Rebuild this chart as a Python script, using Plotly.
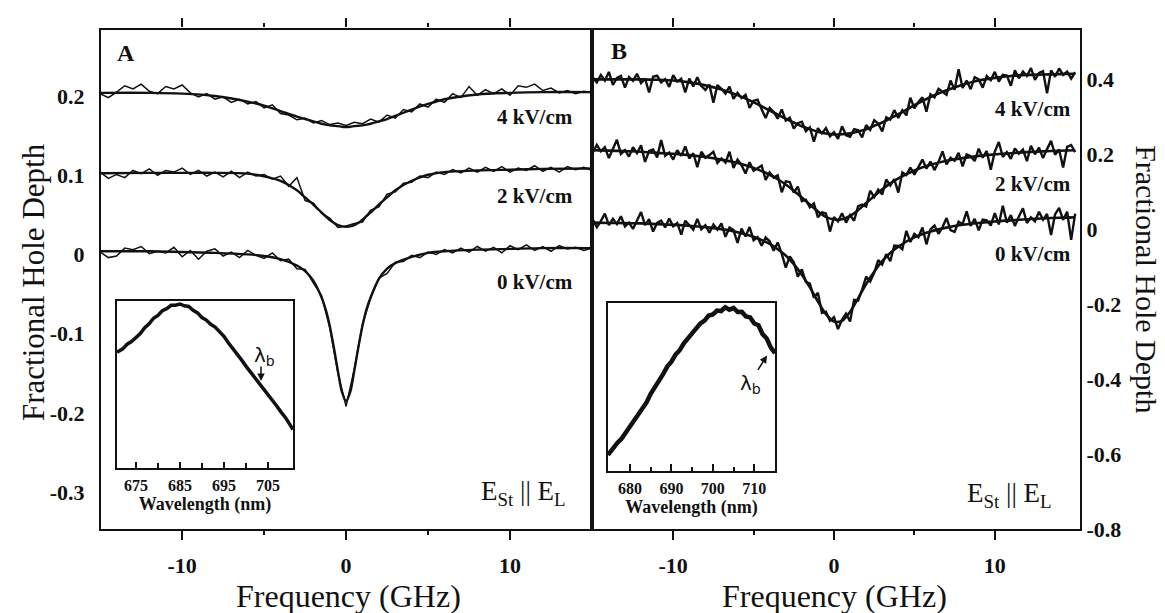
import plotly.graph_objects as go

# ---------------- data ----------------
FREQ_A = [-15.0, -14.5, -14.0, -13.5, -13.0, -12.5, -12.0, -11.5, -11.0, -10.5,
          -10.0, -9.5, -9.0, -8.5, -8.0, -7.5, -7.0, -6.5, -6.0, -5.5,
          -5.0, -4.5, -4.0, -3.5, -3.0, -2.5, -2.0, -1.5, -1.0, -0.5,
          0.0, 0.5, 1.0, 1.5, 2.0, 2.5, 3.0, 3.5, 4.0, 4.5,
          5.0, 5.5, 6.0, 6.5, 7.0, 7.5, 8.0, 8.5, 9.0, 9.5,
          10.0, 10.5, 11.0, 11.5, 12.0, 12.5, 13.0, 13.5, 14.0, 14.5,
          15.0]

A_DATA_0KV = [0.003, -0.004, -0.002, 0.008, 0.006, 0.010, 0.001, 0.004, 0.002, 0.009,
              -0.003, 0.005, -0.006, 0.004, 0.007, -0.002, 0.003, -0.004, 0.005, -0.001,
              -0.005, 0.002, -0.008, -0.006, -0.018, -0.019, -0.036, -0.052, -0.092, -0.150,
              -0.192, -0.145, -0.088, -0.055, -0.030, -0.024, -0.010, -0.009, -0.001, -0.004,
              0.003, 0.000, 0.006, 0.002, 0.008, 0.003, 0.010, 0.004, 0.009, 0.002,
              0.011, 0.006, 0.012, 0.005, 0.010, 0.004, 0.011, 0.007, 0.009, 0.005,
              0.008]
A_DATA_2KV = [0.104, 0.096, 0.101, 0.097, 0.106, 0.102, 0.108, 0.100, 0.106, 0.104,
              0.109, 0.101, 0.106, 0.099, 0.104, 0.098, 0.105, 0.097, 0.104, 0.099,
              0.101, 0.095, 0.099, 0.086, 0.097, 0.068, 0.065, 0.052, 0.046, 0.034,
              0.036, 0.039, 0.041, 0.056, 0.060, 0.076, 0.079, 0.090, 0.091, 0.099,
              0.097, 0.104, 0.101, 0.107, 0.103, 0.109, 0.104, 0.110, 0.105, 0.111,
              0.104, 0.109, 0.106, 0.112, 0.105, 0.110, 0.104, 0.111, 0.107, 0.110,
              0.106]
A_DATA_4KV = [0.203, 0.198, 0.205, 0.213, 0.209, 0.215, 0.206, 0.203, 0.212, 0.209,
              0.214, 0.204, 0.199, 0.203, 0.196, 0.199, 0.192, 0.196, 0.190, 0.193,
              0.185, 0.189, 0.178, 0.176, 0.170, 0.172, 0.166, 0.169, 0.164, 0.166,
              0.163, 0.167, 0.165, 0.171, 0.167, 0.176, 0.172, 0.183, 0.180, 0.190,
              0.186, 0.196, 0.192, 0.203, 0.198, 0.212, 0.201, 0.208, 0.203, 0.209,
              0.201, 0.213, 0.211, 0.215, 0.207, 0.210, 0.204, 0.207, 0.203, 0.206,
              0.204]

FIT_FREQ_A = [-15, -12, -10, -8, -6, -5, -4, -3, -2.5, -2, -1.5, -1.25, -1, -0.75, -0.5, -0.25,
              0, 0.25, 0.5, 0.75, 1, 1.25, 1.5, 2, 2.5, 3, 4, 5, 6, 8, 10, 12, 15]
A_FIT_0KV = [0.004, 0.004, 0.003, 0.002, 0.000, -0.002, -0.006, -0.014, -0.021, -0.033, -0.054,
             -0.069, -0.090, -0.117, -0.147, -0.174, -0.185, -0.174, -0.147, -0.117, -0.090,
             -0.069, -0.054, -0.031, -0.018, -0.011, -0.003, 0.002, 0.004, 0.006, 0.007, 0.008, 0.008]
A_FIT_2KV = [0.1025, 0.103, 0.103, 0.103, 0.102, 0.0986, 0.093, 0.081, 0.072, 0.063, 0.053,
             0.048, 0.0435, 0.040, 0.037, 0.0355, 0.035, 0.0355, 0.037, 0.040, 0.044,
             0.0485, 0.053, 0.063, 0.072, 0.081, 0.093, 0.1006, 0.104, 0.106, 0.107, 0.108, 0.1085]
A_FIT_4KV = [0.204, 0.204, 0.203, 0.200, 0.193, 0.188, 0.181, 0.174, 0.171, 0.168, 0.165,
             0.164, 0.163, 0.1625, 0.162, 0.1612, 0.161, 0.1613, 0.162, 0.1625, 0.163,
             0.164, 0.165, 0.168, 0.171, 0.175, 0.183, 0.190, 0.196, 0.202, 0.204, 0.205, 0.205]

FREQ_B = [-15.0, -14.75, -14.5, -14.25, -14.0, -13.75, -13.5, -13.25,
          -13.0, -12.75, -12.5, -12.25, -12.0, -11.75, -11.5, -11.25,
          -11.0, -10.75, -10.5, -10.25, -10.0, -9.75, -9.5, -9.25,
          -9.0, -8.75, -8.5, -8.25, -8.0, -7.75, -7.5, -7.25,
          -7.0, -6.75, -6.5, -6.25, -6.0, -5.75, -5.5, -5.25,
          -5.0, -4.75, -4.5, -4.25, -4.0, -3.75, -3.5, -3.25,
          -3.0, -2.75, -2.5, -2.25, -2.0, -1.75, -1.5, -1.25,
          -1.0, -0.75, -0.5, -0.25, 0.0, 0.25, 0.5, 0.75,
          1.0, 1.25, 1.5, 1.75, 2.0, 2.25, 2.5, 2.75,
          3.0, 3.25, 3.5, 3.75, 4.0, 4.25, 4.5, 4.75,
          5.0, 5.25, 5.5, 5.75, 6.0, 6.25, 6.5, 6.75,
          7.0, 7.25, 7.5, 7.75, 8.0, 8.25, 8.5, 8.75,
          9.0, 9.25, 9.5, 9.75, 10.0, 10.25, 10.5, 10.75,
          11.0, 11.25, 11.5, 11.75, 12.0, 12.25, 12.5, 12.75,
          13.0, 13.25, 13.5, 13.75, 14.0, 14.25, 14.5, 14.75,
          15.0]

B_DATA_4KV = [0.405, 0.392, 0.412, 0.397, 0.420, 0.385, 0.404, 0.409,
              0.378, 0.406, 0.396, 0.415, 0.390, 0.402, 0.365, 0.407,
              0.410, 0.392, 0.401, 0.380, 0.411, 0.394, 0.402, 0.365,
              0.402, 0.381, 0.406, 0.382, 0.372, 0.386, 0.338, 0.385,
              0.375, 0.362, 0.381, 0.348, 0.364, 0.350, 0.359, 0.324,
              0.343, 0.346, 0.320, 0.297, 0.324, 0.313, 0.295, 0.320,
              0.290, 0.298, 0.269, 0.283, 0.287, 0.262, 0.272, 0.234,
              0.270, 0.256, 0.270, 0.248, 0.259, 0.241, 0.275, 0.251,
              0.247, 0.267, 0.264, 0.245, 0.278, 0.265, 0.291, 0.282,
              0.261, 0.299, 0.293, 0.318, 0.297, 0.318, 0.304, 0.351,
              0.323, 0.340, 0.352, 0.314, 0.360, 0.352, 0.375, 0.367,
              0.359, 0.397, 0.372, 0.427, 0.377, 0.397, 0.374, 0.406,
              0.400, 0.378, 0.409, 0.398, 0.420, 0.394, 0.412, 0.410,
              0.383, 0.424, 0.403, 0.421, 0.409, 0.430, 0.399, 0.417,
              0.422, 0.363, 0.424, 0.407, 0.429, 0.412, 0.421, 0.402,
              0.419]
B_DATA_2KV = [0.205, 0.225, 0.208, 0.219, 0.190, 0.215, 0.239, 0.201,
              0.211, 0.194, 0.219, 0.203, 0.224, 0.180, 0.209, 0.213,
              0.192, 0.238, 0.196, 0.205, 0.186, 0.211, 0.196, 0.221,
              0.189, 0.203, 0.166, 0.207, 0.191, 0.198, 0.207, 0.177,
              0.189, 0.178, 0.207, 0.164, 0.186, 0.171, 0.149, 0.179,
              0.156, 0.163, 0.170, 0.132, 0.152, 0.138, 0.144, 0.099,
              0.128, 0.126, 0.098, 0.114, 0.075, 0.079, 0.059, 0.069,
              0.032, 0.045, 0.042, -0.006, 0.033, 0.021, 0.043, 0.018,
              0.038, 0.023, 0.062, 0.066, 0.061, 0.103, 0.086, 0.106,
              0.093, 0.133, 0.117, 0.134, 0.098, 0.152, 0.145, 0.165,
              0.146, 0.166, 0.186, 0.162, 0.181, 0.158, 0.180, 0.208,
              0.173, 0.191, 0.183, 0.204, 0.168, 0.200, 0.195, 0.182,
              0.215, 0.191, 0.209, 0.159, 0.207, 0.233, 0.193, 0.206,
              0.188, 0.216, 0.202, 0.213, 0.182, 0.223, 0.200, 0.218,
              0.190, 0.214, 0.236, 0.199, 0.213, 0.165, 0.220, 0.225,
              0.206]
B_DATA_0KV = [0.026, 0.006, 0.022, 0.042, 0.011, 0.028, 0.014, 0.035,
              0.008, 0.018, 0.001, 0.023, 0.046, 0.011, 0.027, -0.006,
              0.017, 0.023, 0.005, 0.029, 0.008, 0.017, -0.014, 0.023,
              0.012, -0.001, 0.028, 0.000, 0.011, -0.009, 0.013, -0.001,
              0.016, -0.020, 0.005, -0.002, -0.036, 0.002, -0.019, 0.006,
              -0.029, -0.021, -0.044, -0.022, -0.032, -0.057, -0.035, -0.065,
              -0.102, -0.072, -0.088, -0.126, -0.107, -0.140, -0.145, -0.182,
              -0.169, -0.223, -0.220, -0.244, -0.234, -0.266, -0.241, -0.225,
              -0.246, -0.188, -0.190, -0.161, -0.126, -0.139, -0.116, -0.082,
              -0.094, -0.066, -0.085, -0.043, -0.044, -0.053, -0.004, -0.034,
              -0.012, -0.021, 0.005, -0.040, 0.000, 0.010, -0.012, 0.006,
              0.030, -0.002, -0.007, 0.020, 0.014, 0.048, 0.009, 0.028,
              -0.003, 0.026, 0.024, 0.010, 0.043, 0.013, 0.063, 0.018,
              0.038, 0.009, 0.034, 0.056, 0.017, 0.032, 0.021, 0.047,
              0.026, 0.041, -0.015, 0.040, 0.057, 0.025, 0.047, -0.028,
              0.042]

FIT_FREQ_B = [-15, -14, -13, -12, -11, -10, -9, -8, -7, -6, -5, -4,
              -3.5, -3, -2.5, -2, -1.5, -1, -0.5, 0, 0.5, 1, 1.5, 2, 2.5, 3, 3.5, 4,
              5, 6, 7, 8, 9, 10, 11, 12, 13, 14, 15]
B_FIT_4KV = [0.400, 0.400, 0.400, 0.400, 0.399, 0.397, 0.392, 0.384, 0.373, 0.358, 0.339, 0.317,
             0.306, 0.295, 0.285, 0.275, 0.2675, 0.260, 0.2555, 0.253, 0.2535, 0.256, 0.261, 0.267,
             0.276, 0.285, 0.296, 0.307,
             0.331, 0.353, 0.371, 0.386, 0.397, 0.404, 0.409, 0.412, 0.413, 0.414, 0.415]
B_FIT_2KV = [0.211, 0.210, 0.2085, 0.207, 0.204, 0.2015, 0.198, 0.193, 0.186, 0.177, 0.164, 0.1456,
             0.1336, 0.1195, 0.1032, 0.085, 0.066, 0.048, 0.033, 0.026, 0.027, 0.036, 0.051, 0.070,
             0.089, 0.1066, 0.1225, 0.136,
             0.157, 0.172, 0.183, 0.190, 0.196, 0.200, 0.203, 0.206, 0.208, 0.2095, 0.211]
B_FIT_0KV = [0.018, 0.017, 0.0165, 0.016, 0.014, 0.012, 0.0097, 0.006, 0.0005, -0.0075, -0.020, -0.039,
             -0.053, -0.070, -0.093, -0.121, -0.155, -0.1925, -0.226, -0.246, -0.244, -0.220, -0.184,
             -0.146, -0.113, -0.085, -0.063, -0.046,
             -0.0215, -0.006, 0.0045, 0.012, 0.017, 0.021, 0.024, 0.027, 0.029, 0.031, 0.032]

INSET_A_WL = [670.7, 671, 672, 673, 674, 675, 676, 677, 678, 679, 680, 681, 682, 683, 684, 685,
              686, 687, 688, 689, 690, 691, 692, 693, 694, 695, 696, 697, 698, 699, 700,
              701, 702, 703, 704, 705, 706, 707, 708, 709, 710, 710.7]
INSET_A_VAL = [0.690, 0.697, 0.712, 0.740, 0.756, 0.783, 0.803, 0.838, 0.862, 0.895, 0.912,
               0.940, 0.952, 0.972, 0.973, 0.980, 0.969, 0.965, 0.942, 0.927, 0.899,
               0.884, 0.859, 0.842, 0.815, 0.787, 0.748, 0.716, 0.679, 0.646, 0.609,
               0.576, 0.542, 0.508, 0.471, 0.440, 0.403, 0.371, 0.334, 0.301, 0.259, 0.230]
INSET_B_WL = [674.7, 675, 676, 677, 678, 679, 680, 681, 682, 683, 684, 685, 686, 687, 688, 689,
              690, 691, 692, 693, 694, 695, 696, 697, 698, 699, 700, 701, 702, 703, 704,
              705, 706, 707, 708, 709, 710, 711, 712, 713, 714, 715]
INSET_B_VAL = [0.095, 0.105, 0.133, 0.168, 0.192, 0.228, 0.255, 0.295, 0.327, 0.373, 0.407,
               0.458, 0.494, 0.541, 0.575, 0.620, 0.649, 0.691, 0.717, 0.758, 0.786,
               0.824, 0.843, 0.877, 0.893, 0.923, 0.930, 0.953, 0.950, 0.972, 0.958,
               0.968, 0.944, 0.945, 0.918, 0.912, 0.876, 0.866, 0.813, 0.787, 0.733, 0.700]

FREQ_TICKS = [-10, 0, 10]
FREQ_TICK_TEXT = ["-10", "0", "10"]
A_Y_TICKS = [-0.3, -0.2, -0.1, 0, 0.1, 0.2]
A_Y_TEXT = ["-0.3", "-0.2", "-0.1", "0", "0.1", "0.2"]
B_Y_TICKS = [-0.8, -0.6, -0.4, -0.2, 0, 0.2, 0.4]
B_Y_TEXT = ["-0.8", "-0.6", "-0.4", "-0.2", "0", "0.2", "0.4"]
INSET_A_TICKS = [675, 685, 695, 705]
INSET_B_TICKS = [680, 690, 700, 710]
FIELD_LABELS = ["4 kV/cm", "2 kV/cm", "0 kV/cm"]

# ---------------- layout helpers ----------------
W, H = 1165, 613
def px(x):
    return x / W
def py(y):
    return 1 - y / H

INK = "#111111"
SERIF = "Liberation Serif"

fig = go.Figure()

def add_pair(xd, yd, xf, yf, xa, ya, dw, fw):
    fig.add_trace(go.Scatter(x=xd, y=yd, mode="lines", line=dict(color=INK, width=dw),
                             xaxis=xa, yaxis=ya, showlegend=False, hoverinfo="skip"))
    fig.add_trace(go.Scatter(x=xf, y=yf, mode="lines", line=dict(color=INK, width=fw, shape="spline", smoothing=0.8),
                             xaxis=xa, yaxis=ya, showlegend=False, hoverinfo="skip"))

add_pair(FREQ_A, A_DATA_4KV, FIT_FREQ_A, A_FIT_4KV, "x", "y", 1.5, 2.4)
add_pair(FREQ_A, A_DATA_2KV, FIT_FREQ_A, A_FIT_2KV, "x", "y", 1.5, 2.4)
add_pair(FREQ_A, A_DATA_0KV, FIT_FREQ_A, A_FIT_0KV, "x", "y", 1.5, 2.4)
add_pair(FREQ_B, B_DATA_4KV, FIT_FREQ_B, B_FIT_4KV, "x2", "y2", 2.4, 2.6)
add_pair(FREQ_B, B_DATA_2KV, FIT_FREQ_B, B_FIT_2KV, "x2", "y2", 2.4, 2.6)
add_pair(FREQ_B, B_DATA_0KV, FIT_FREQ_B, B_FIT_0KV, "x2", "y2", 2.4, 2.6)

fig.add_trace(go.Scatter(x=INSET_A_WL, y=INSET_A_VAL, mode="lines", line=dict(color=INK, width=3.5),
                         xaxis="x3", yaxis="y3", showlegend=False, hoverinfo="skip"))
fig.add_trace(go.Scatter(x=INSET_B_WL, y=INSET_B_VAL, mode="lines", line=dict(color=INK, width=4.5),
                         xaxis="x4", yaxis="y4", showlegend=False, hoverinfo="skip"))

tickfont = dict(family=SERIF, size=22, color=INK, weight="bold")
minor_x = dict(tickvals=[-5, 5], ticks="outside", ticklen=4, tickwidth=2, tickcolor=INK)

main_x = dict(showline=True, linewidth=2.2, linecolor=INK, mirror="ticks", showgrid=False, zeroline=False,
              ticks="outside", ticklen=9, tickwidth=2, tickcolor=INK,
              tickvals=FREQ_TICKS, ticktext=FREQ_TICK_TEXT, tickfont=tickfont,
              ticklabelstandoff=6, minor=minor_x)
main_y = dict(showline=True, linewidth=2.2, linecolor=INK, mirror=True, showgrid=False, zeroline=False,
              ticks="", tickfont=tickfont)

Y_DOM = [py(532.5), py(22)]

fig.update_layout(
    width=W, height=H, autosize=False,
    margin=dict(l=0, r=0, t=0, b=0),
    paper_bgcolor="white", plot_bgcolor="white",
    xaxis=dict(main_x, domain=[px(93), px(584)], range=[-14.95, 15.0], anchor="y"),
    yaxis=dict(main_y, domain=Y_DOM, range=[-0.347, 0.284], tickvals=A_Y_TICKS, ticktext=A_Y_TEXT,
               anchor="x", side="left", ticklabelstandoff=10),
    xaxis2=dict(main_x, domain=[px(584), px(1072)], range=[-15.05, 15.3], anchor="y2"),
    yaxis2=dict(main_y, domain=Y_DOM, range=[-0.8, 0.533], tickvals=B_Y_TICKS, ticktext=B_Y_TEXT,
                anchor="x2", side="right", ticklabelstandoff=0),
    xaxis3=dict(domain=[px(109), px(285)], range=[670.7, 710.7], anchor="y3",
                showline=True, linewidth=1.8, linecolor=INK, mirror=True, showgrid=False, zeroline=False,
                ticks="inside", ticklen=6, tickwidth=1.5, tickcolor=INK, tickvals=INSET_A_TICKS,
                tickfont=dict(family=SERIF, size=16, color=INK, weight="bold"), ticklabelstandoff=2,
                minor=dict(tickvals=[680, 690, 700], ticks="inside", ticklen=5, tickwidth=1.5, tickcolor=INK),
                title=dict(text="Wavelength (nm)", standoff=0,
                           font=dict(family=SERIF, size=18, color=INK, weight="bold"))),
    yaxis3=dict(domain=[py(470), py(299)], range=[0, 1.0], anchor="x3",
                showline=True, linewidth=1.8, linecolor=INK, mirror=True, showgrid=False, zeroline=False,
                ticks="", showticklabels=False),
    xaxis4=dict(domain=[px(600), px(767)], range=[674.7, 715.0], anchor="y4",
                showline=True, linewidth=1.8, linecolor=INK, mirror=True, showgrid=False, zeroline=False,
                ticks="inside", ticklen=7, tickwidth=1.5, tickcolor=INK, tickvals=INSET_B_TICKS,
                tickfont=dict(family=SERIF, size=16, color=INK, weight="bold"), ticklabelstandoff=2,
                minor=dict(tickvals=[685, 695, 705], ticks="inside", ticklen=4, tickwidth=1.5, tickcolor=INK),
                title=dict(text="Wavelength (nm)", standoff=0,
                           font=dict(family=SERIF, size=18, color=INK, weight="bold"))),
    yaxis4=dict(domain=[py(473), py(301)], range=[0, 1.0], anchor="x4",
                showline=True, linewidth=1.8, linecolor=INK, mirror=True, showgrid=False, zeroline=False,
                ticks="", showticklabels=False),
)

ann = []
def text(x, y, s, size, bold=False, xanchor="center", angle=0, family=SERIF):
    ann.append(dict(x=px(x), y=py(y), xref="paper", yref="paper", text=s, showarrow=False,
                    xanchor=xanchor, yanchor="middle", textangle=angle,
                    font=dict(family=family, size=size, color=INK, weight="bold" if bold else "normal")))

text(118, 46, "A", 24, bold=True)
text(611, 44, "B", 24, bold=True)
for lab, yy in zip(FIELD_LABELS, [111, 192, 280]):
    text(567, yy, lab, 21, bold=True, xanchor="right")
for lab, yy in zip(FIELD_LABELS, [103, 180, 251]):
    text(1065, yy, lab, 21, bold=True, xanchor="right")
text(560, 495, "E<sub>St</sub> || E<sub>L</sub>", 27, xanchor="right")
text(1046, 498, "E<sub>St</sub> || E<sub>L</sub>", 27, xanchor="right")
text(340, 601, "Frequency (GHz)", 32)
text(826, 601, "Frequency (GHz)", 32)
text(25, 280, "Fractional Hole Depth", 31, angle=-90)
text(1139, 277, "Fractional Hole Depth", 30, angle=90)
text(256, 356, "λ<sub>b</sub>", 20, family="DejaVu Sans")
text(742, 384, "λ<sub>b</sub>", 20, family="DejaVu Sans")

# arrows
ann.append(dict(x=px(253), y=py(381), xref="paper", yref="paper", ax=0, ay=-16, axref="pixel", ayref="pixel",
                text="", showarrow=True, arrowhead=2, arrowsize=1, arrowwidth=1.5, arrowcolor=INK))
ann.append(dict(x=px(759), y=py(355), xref="paper", yref="paper", ax=-10, ay=16, axref="pixel", ayref="pixel",
                text="", showarrow=True, arrowhead=2, arrowsize=1, arrowwidth=1.5, arrowcolor=INK))

fig.update_layout(annotations=ann)

fig.write_html("out.html")
